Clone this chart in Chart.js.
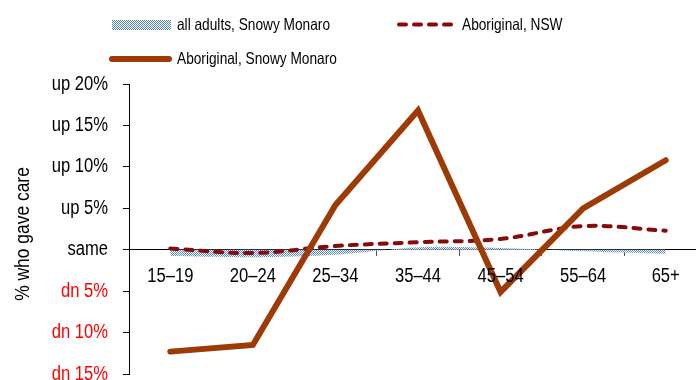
<!DOCTYPE html>
<html>
<head>
<meta charset="utf-8">
<script src="https://cdn.jsdelivr.net/npm/chart.js@4/dist/chart.umd.min.js"></script>
<style>
  html, body { margin: 0; padding: 0; background: #fff; overflow: hidden; }
  #wrap { position: relative; width: 710px; height: 400px; }
</style>
</head>
<body>
<div id="wrap"><canvas id="c"></canvas></div>
<script>
// ---- data ----
const categories = ['15–19', '20–24', '25–34', '35–44', '45–54', '55–64', '65+'];
const allAdultsSnowyMonaro = [-0.75, -0.9, -0.6, 0.3, 0.2, -0.2, -0.5];
const aboriginalNSW = [0.15, -0.4, 0.45, 0.9, 1.3, 2.85, 2.3];
const aboriginalSnowyMonaro = [-12.3, -11.5, 5.4, 16.8, -5.1, 5.0, 10.8];
const seriesNames = ['all adults, Snowy Monaro', 'Aboriginal, NSW', 'Aboriginal, Snowy Monaro'];
const yTickValues = [-15, -10, -5, 0, 5, 10, 15, 20];
const yTickLabels = ['dn 15%', 'dn 10%', 'dn 5%', 'same', 'up 5%', 'up 10%', 'up 15%', 'up 20%'];
const yTitle = '% who gave care';

const FONT = "'Liberation Sans', Arial, sans-serif";
const NARROW = 0.83; // horizontal squeeze to mimic a narrow face

// dotted blue pattern
const pc = document.createElement('canvas');
pc.width = 2; pc.height = 2;
const pctx = pc.getContext('2d');
pctx.fillStyle = '#ffffff'; pctx.fillRect(0, 0, 2, 2);
pctx.fillStyle = '#5A88CF'; pctx.fillRect(0, 0, 1, 1); pctx.fillRect(1, 1, 1, 1);
const bluePattern = pctx.createPattern(pc, 'repeat');

function narrowText(ctx, text, x, y, align, baseline, size, color, rot) {
  ctx.save();
  ctx.translate(x, y);
  if (rot) ctx.rotate(rot);
  ctx.scale(NARROW, 1);
  ctx.font = size + 'px ' + FONT;
  ctx.fillStyle = color;
  ctx.textAlign = align;
  ctx.textBaseline = baseline;
  ctx.fillText(text, 0, 0);
  ctx.restore();
}

const textPlugin = {
  id: 'narrowTexts',
  afterDraw(chart) {
    const ctx = chart.ctx;
    const ds = chart.data.datasets;
    const xs = chart.scales.x, ys = chart.scales.y;
    // y tick labels
    yTickValues.forEach((v, i) => {
      narrowText(ctx, yTickLabels[i], 108, ys.getPixelForValue(v), 'right', 'middle', 20,
        v < 0 ? '#FF0000' : '#000', 0);
    });
    // x tick labels
    categories.forEach((c, i) => {
      narrowText(ctx, c, xs.getPixelForValue(i), 282, 'center', 'alphabetic', 20, '#000', 0);
    });
    // y title
    narrowText(ctx, yTitle, 23, 234, 'center', 'middle', 21, '#000', -Math.PI / 2);

    // legend
    ctx.save();
    ctx.fillStyle = ds[0].backgroundColor;
    ctx.fillRect(112, 20, 59, 10);
    ctx.strokeStyle = ds[1].borderColor;
    ctx.lineWidth = ds[1].borderWidth;
    ctx.lineCap = 'round';
    ctx.setLineDash(ds[1].borderDash);
    ctx.beginPath(); ctx.moveTo(399, 24.5); ctx.lineTo(457, 24.5); ctx.stroke();
    ctx.setLineDash([]);
    ctx.strokeStyle = ds[2].borderColor;
    ctx.lineWidth = ds[2].borderWidth;
    ctx.beginPath(); ctx.moveTo(112, 59); ctx.lineTo(169, 59); ctx.stroke();
    ctx.restore();
    narrowText(ctx, ds[0].label, 177, 25, 'left', 'middle', 16.5, '#000', 0);
    narrowText(ctx, ds[1].label, 462, 25, 'left', 'middle', 16.5, '#000', 0);
    narrowText(ctx, ds[2].label, 177, 59, 'left', 'middle', 16.5, '#000', 0);
  }
};

new Chart(document.getElementById('c'), {
  type: 'line',
  data: {
    labels: categories,
    datasets: [
      {
        label: seriesNames[0],
        data: allAdultsSnowyMonaro,
        backgroundColor: bluePattern,
        borderColor: 'rgba(0,0,0,0)',
        borderWidth: 0,
        fill: 'origin',
        pointRadius: 0,
        tension: 0.3,
        order: 3
      },
      {
        label: seriesNames[1],
        data: aboriginalNSW,
        borderColor: '#870A0A',
        borderWidth: 4,
        borderDash: [7, 8],
        borderCapStyle: 'round',
        fill: false,
        pointRadius: 0,
        tension: 0.35,
        order: 2
      },
      {
        label: seriesNames[2],
        data: aboriginalSnowyMonaro,
        borderColor: '#9E3A06',
        borderWidth: 6,
        borderCapStyle: 'round',
        borderJoinStyle: 'miter',
        fill: false,
        pointRadius: 0,
        tension: 0,
        order: 1
      }
    ]
  },
  options: {
    responsive: true,
    maintainAspectRatio: false,
    animation: false,
    devicePixelRatio: 1,
    layout: { padding: { top: 84, bottom: 26, left: 0, right: 3 } },
    plugins: {
      legend: { display: false },
      tooltip: { enabled: false }
    },
    scales: {
      x: {
        type: 'category',
        position: { y: 0 },
        offset: true,
        grid: { offset: true, drawOnChartArea: false, drawTicks: true, tickLength: 6, color: '#555' },
        border: { display: true, color: '#000', width: 1 },
        ticks: { display: false, autoSkip: false, maxRotation: 0 }
      },
      y: {
        min: -15,
        max: 20,
        afterBuildTicks(scale) { scale.ticks = yTickValues.map(v => ({ value: v })); },
        afterFit(scale) { scale.width = 129; },
        grid: { drawOnChartArea: false, drawTicks: true, tickLength: 6, color: '#000' },
        border: { display: true, color: '#000', width: 1 },
        title: { display: false },
        ticks: { display: false }
      }
    }
  },
  plugins: [textPlugin]
});
</script>
</body>
</html>
